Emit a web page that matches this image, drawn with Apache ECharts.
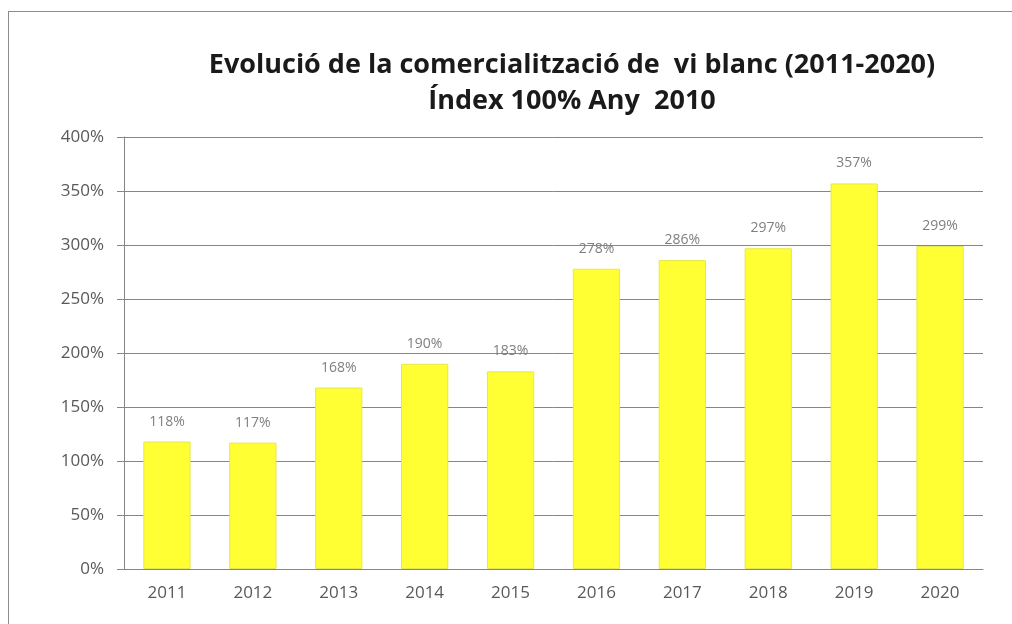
<!DOCTYPE html>
<html>
<head>
<meta charset="utf-8">
<script src="https://cdn.jsdelivr.net/npm/echarts@6/dist/echarts.min.js"></script>
<style>
  html, body { margin: 0; padding: 0; background: #fff; }
  #frame { position: absolute; left: 8px; top: 11px; width: 1010px; height: 620px; border: 1px solid #8c8c8c; box-sizing: border-box; }
  #chart { position: absolute; left: 0; top: 0; width: 1012px; height: 624px; }
</style>
</head>
<body>
<div id="frame"></div>
<div id="chart"></div>
<script>
// dades llegides de la imatge
const years = ['2011', '2012', '2013', '2014', '2015', '2016', '2017', '2018', '2019', '2020']
const indexValues = [118, 117, 168, 190, 183, 278, 286, 297, 357, 299]

const myChart = echarts.init(document.getElementById('chart'))
const option = {
  animation: false,
  title: {
    text: 'Evolució de la comercialització de  vi blanc (2011-2020)\nÍndex 100% Any  2010',
    left: 567,
    top: 42,
    textAlign: 'center',
    textStyle: {
      fontFamily: 'Open Sans',
      fontWeight: 'bold',
      fontSize: 27,
      color: '#1a1a1a',
      lineHeight: 36
    }
  },
  grid: {
    left: 124,
    right: 29,
    top: 137,
    bottom: 55,
    containLabel: false
  },
  xAxis: {
    type: 'category',
    data: years,
    axisLine: { lineStyle: { color: '#868686', width: 1 } },
    axisTick: { show: false },
    axisLabel: { color: '#595959', fontSize: 17, fontFamily: 'Open Sans', margin: 16 }
  },
  yAxis: {
    type: 'value',
    min: 0,
    max: 400,
    interval: 50,
    axisLine: { show: true, lineStyle: { color: '#868686' } },
    axisTick: { show: true, length: 7, lineStyle: { color: '#868686' } },
    axisLabel: { formatter: '{value}%', color: '#595959', fontSize: 17, fontFamily: 'Open Sans', margin: 20 },
    splitLine: { lineStyle: { color: '#868686', width: 1 } }
  },
  series: [
    {
      type: 'bar',
      data: indexValues,
      barWidth: '55%',
      itemStyle: { color: '#ffff33', borderColor: '#e6e64d', borderWidth: 1 },
      label: {
        show: true,
        position: 'top',
        distance: 13,
        formatter: '{c}%',
        color: '#7f7f7f',
        fontSize: 14,
        fontFamily: 'Open Sans'
      }
    }
  ]
}
myChart.setOption(option)
window.addEventListener('resize', () => { myChart.resize() })
</script>
</body>
</html>
